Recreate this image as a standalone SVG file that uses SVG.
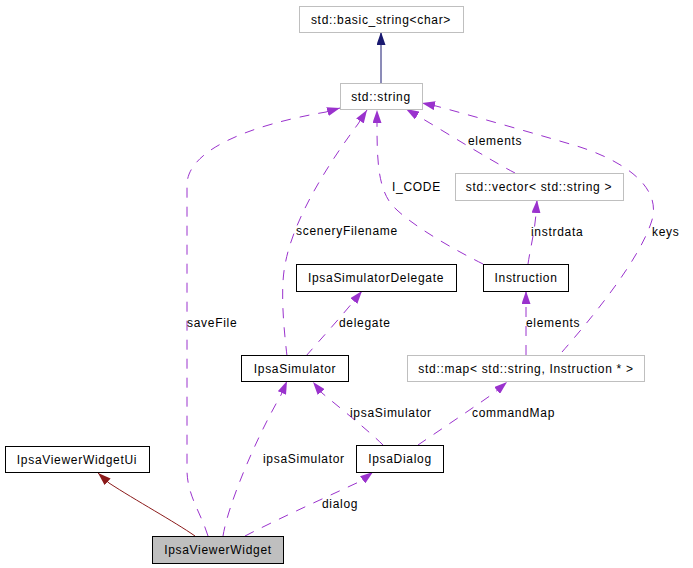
<svg xmlns="http://www.w3.org/2000/svg" width="693" height="568" viewBox="0 0 693 568">
<style>
  text { font-family: "Liberation Sans", Arial, sans-serif; font-size: 12px; letter-spacing: 0.7px; fill: #000; }
  .node rect { fill: #fff; stroke: #000; stroke-width: 1; }
  .node.ext rect { stroke: #bfbfbf; }
  .node.main rect { fill: #bfbfbf; }
  .node text { text-anchor: middle; }
  .e { fill: none; stroke-width: 1; }
  .use { stroke: #9a32cd; stroke-dasharray: 10,9; marker-end: url(#apurple); }
  .tmpl { stroke: #191970; marker-end: url(#anavy); }
  .inh { stroke: #8b1a1a; marker-end: url(#ared); }
</style>
<defs>
  <marker id="apurple" viewBox="0 0 13 9" refX="13" refY="4.5" markerWidth="13" markerHeight="9" markerUnits="userSpaceOnUse" orient="auto">
    <path d="M0,0 L13,4.5 L0,9 z" fill="#9a32cd"/>
  </marker>
  <marker id="anavy" viewBox="0 0 13 9" refX="13" refY="4.5" markerWidth="13" markerHeight="9" markerUnits="userSpaceOnUse" orient="auto">
    <path d="M0,0 L13,4.5 L0,9 z" fill="#191970"/>
  </marker>
  <marker id="ared" viewBox="0 0 13 9" refX="13" refY="4.5" markerWidth="13" markerHeight="9" markerUnits="userSpaceOnUse" orient="auto">
    <path d="M0,0 L13,4.5 L0,9 z" fill="#8b1a1a"/>
  </marker>
</defs>

<g id="connectors">
  <path class="e tmpl" d="M381,83 L381,32"/>
  <path class="e inh" d="M195,536 C175,522 135,500 109,483 L98,473"/>
  <path class="e use" d="M208,536 C201,513 187,495 187,470 L187,185 C187,150 250,125 326,112 L340,108"/>
  <path class="e use" d="M287,356 C284,330 280,290 285,265 C292,225 320,175 358,124 L367,110"/>
  <path class="e use" d="M483,264 C455,250 410,225 392,205 C378,188 377,160 377,124 L377,110"/>
  <path class="e use" d="M515,173 C490,160 450,135 418,116 L406,109"/>
  <path class="e use" d="M562,352 C590,320 640,260 652,220 C662,185 620,160 580,147 C540,135 480,118 436,106 L422,103"/>
  <path class="e use" d="M528,264 C530,250 535,230 536,213 L537,200"/>
  <path class="e use" d="M526,355 L526,291"/>
  <path class="e use" d="M306,356 C320,340 340,318 353,302 L362,291"/>
  <path class="e use" d="M383,445 C370,432 345,412 322,393 L313,382"/>
  <path class="e use" d="M418,445 C440,430 470,410 494,393 L507,382"/>
  <path class="e use" d="M223,536 C228,505 255,440 281,395 L287,381"/>
  <path class="e use" d="M245,536 C280,518 320,500 361,481 L373,472"/>
  <text x="187" y="327">saveFile</text>
  <text x="296" y="235">sceneryFilename</text>
  <text x="392" y="191">I_CODE</text>
  <text x="468" y="145">elements</text>
  <text x="652" y="236">keys</text>
  <text x="531" y="236">instrdata</text>
  <text x="526" y="327">elements</text>
  <text x="339" y="327">delegate</text>
  <text x="350" y="417">ipsaSimulator</text>
  <text x="472" y="417">commandMap</text>
  <text x="263" y="463">ipsaSimulator</text>
  <text x="322" y="508">dialog</text>
</g>

<g id="node-basic_string" class="node ext">
  <rect x="299.5" y="6.5" width="164" height="26"/>
  <text x="381" y="24">std::basic_string&lt;char&gt;</text>
</g>
<g id="node-string" class="node ext">
  <rect x="340.5" y="83.5" width="82" height="26"/>
  <text x="381" y="101">std::string</text>
</g>
<g id="node-vector" class="node ext">
  <rect x="455.5" y="173.5" width="168" height="27"/>
  <text x="539" y="191">std::vector&lt; std::string &gt;</text>
</g>
<g id="node-Instruction" class="node">
  <rect x="483.5" y="264.5" width="85" height="27"/>
  <text x="526" y="282">Instruction</text>
</g>
<g id="node-IpsaSimulatorDelegate" class="node">
  <rect x="296.5" y="264.5" width="160" height="27"/>
  <text x="376" y="282">IpsaSimulatorDelegate</text>
</g>
<g id="node-map" class="node ext">
  <rect x="407.5" y="355.5" width="237" height="26"/>
  <text x="526" y="373">std::map&lt; std::string, Instruction * &gt;</text>
</g>
<g id="node-IpsaSimulator" class="node">
  <rect x="241.5" y="355.5" width="107" height="26"/>
  <text x="295" y="373">IpsaSimulator</text>
</g>
<g id="node-IpsaDialog" class="node">
  <rect x="356.5" y="445.5" width="87" height="27"/>
  <text x="400" y="463">IpsaDialog</text>
</g>
<g id="node-IpsaViewerWidgetUi" class="node">
  <rect x="5.5" y="446.5" width="144" height="26"/>
  <text x="77" y="464">IpsaViewerWidgetUi</text>
</g>
<g id="node-IpsaViewerWidget" class="node main">
  <rect x="152.5" y="536.5" width="131" height="27"/>
  <text x="218" y="554">IpsaViewerWidget</text>
</g>
</svg>
